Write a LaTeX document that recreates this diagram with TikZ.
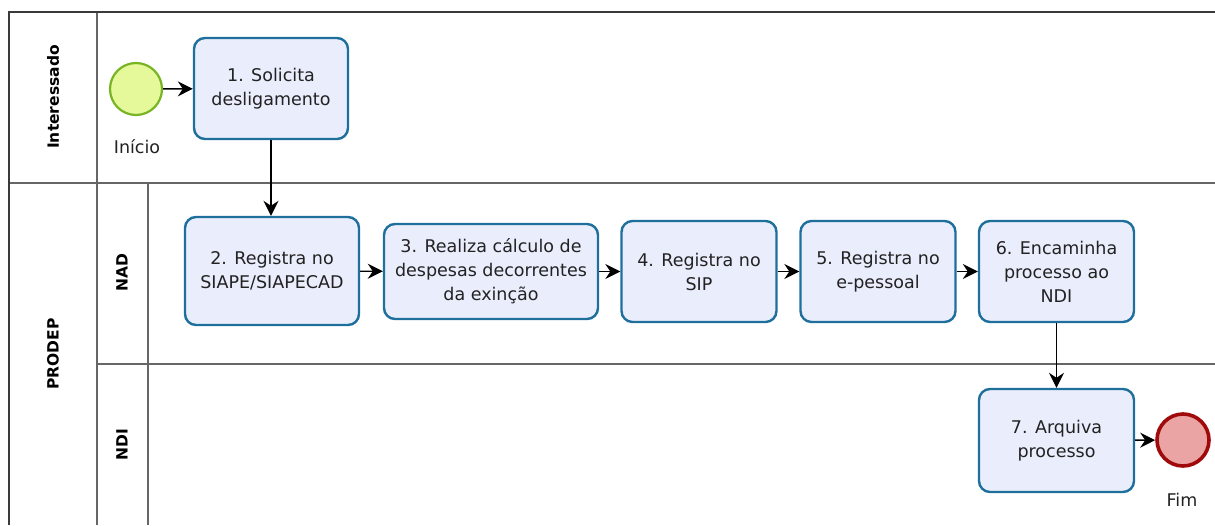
\documentclass[tikz,border=0pt]{standalone}
\usepackage{fontspec}
\setmainfont{DejaVu Sans}
\usetikzlibrary{arrows.meta}
\definecolor{taskfill}{HTML}{EAEDFC}
\definecolor{taskdraw}{HTML}{1F6F9C}
\definecolor{startfill}{HTML}{E5F99A}
\definecolor{startdraw}{HTML}{78B424}
\definecolor{endfill}{HTML}{EBA4A4}
\definecolor{enddraw}{HTML}{A00A0A}
\definecolor{frameline}{HTML}{3A3A3A}
\definecolor{laneline}{HTML}{666666}
\definecolor{txt}{HTML}{222222}
\begin{document}
\begin{tikzpicture}[x=1pt,y=-1pt,
  task/.style={draw=taskdraw, fill=taskfill, line width=2.4pt, rounded corners=11pt,
    align=center, text=txt, font=\fontsize{17.5}{24}\selectfont, inner sep=0pt},
  startev/.style={circle, draw=startdraw, fill=startfill, line width=2.2pt, minimum size=52pt, inner sep=0pt},
  endev/.style={circle, draw=enddraw, fill=endfill, line width=3.6pt, minimum size=52pt, inner sep=0pt},
  evlabel/.style={text=txt, font=\fontsize{17.5}{20}\selectfont, inner sep=0pt},
  flow/.style={-{Stealth[length=15pt,width=15pt,inset=5pt]}, line width=1.4pt, black},
  lanelabel/.style={rotate=90, font=\fontsize{15.5}{18}\selectfont\bfseries, inner sep=0pt},
  frame/.style={draw=frameline, line width=2pt},
  lane/.style={draw=laneline, line width=1.6pt}
]
\useasboundingbox (0,0) rectangle (1215,525);
% pool and lanes
\draw[lane] (97,12) -- (97,525);
\draw[lane] (9,183) -- (1215,183);
\draw[lane] (148,183) -- (148,525);
\draw[lane] (97,364) -- (1215,364);
\draw[frame] (9,525) -- (9,12) -- (1215,12);
% lane labels
\node[lanelabel] (lint) at (53,97) {Interessado};
\node[lanelabel] (lpro) at (53,354) {PRODEP};
\node[lanelabel] (lnad) at (122,273) {NAD};
\node[lanelabel] (lndi) at (122,445) {NDI};
% events
\node[startev] (s) at (136,89) {};
\node[evlabel] (lini) at (137,147) {Início};
\node[endev] (e) at (1183,440) {};
\node[evlabel] (lfim) at (1182,500) {Fim};
% tasks
\node[task, minimum width=154pt, minimum height=101pt] (t1) at (271,88.5) {1. Solicita\\desligamento};
\node[task, minimum width=174pt, minimum height=108pt] (t2) at (272,271) {2. Registra no\\SIAPE/SIAPECAD};
\node[task, minimum width=214pt, minimum height=95pt] (t3) at (491,271.5) {3. Realiza cálculo de\\despesas decorrentes\\da exinção};
\node[task, minimum width=155pt, minimum height=101pt] (t4) at (699,271.5) {4. Registra no\\SIP};
\node[task, minimum width=155pt, minimum height=101pt] (t5) at (878,271.5) {5. Registra no\\e-pessoal};
\node[task, minimum width=155pt, minimum height=101pt] (t6) at (1056.5,271.5) {6. Encaminha\\processo ao\\NDI};
\node[task, minimum width=155pt, minimum height=103pt] (t7) at (1056.5,440.5) {7. Arquiva\\processo};
% flows
\draw[flow] (s) -- (t1);
\draw[flow] (t1.south) -- (t1.south |- t2.north);
\draw[flow] (t2) -- (t3);
\draw[flow] (t3) -- (t4);
\draw[flow] (t4) -- (t5);
\draw[flow] (t5) -- (t6);
\draw[flow] (t6) -- (t7);
\draw[flow] (t7) -- (e);
\end{tikzpicture}
\end{document}
